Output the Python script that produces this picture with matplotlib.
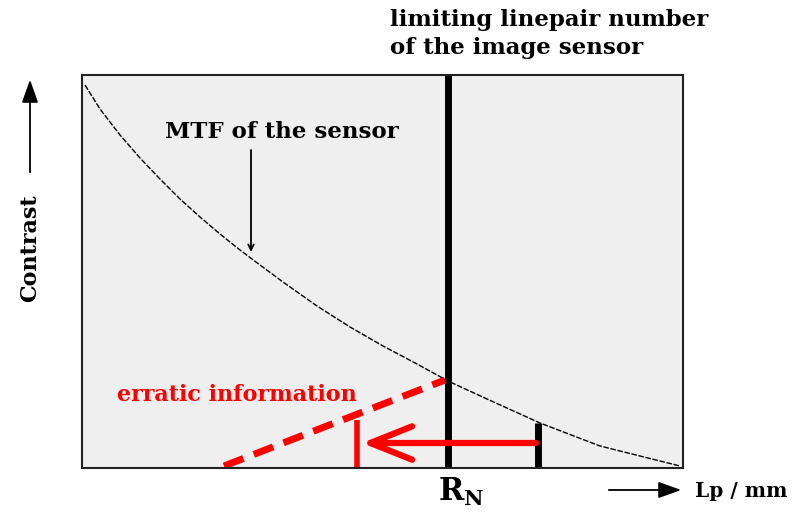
import matplotlib
matplotlib.use("Agg")
import matplotlib.pyplot as plt
from matplotlib.patches import FancyArrowPatch

plt.rcParams['font.family'] = ['DejaVu Serif']
plt.rcParams['mathtext.fontset'] = 'dejavuserif'

# MTF curve of the sensor (box units: x 0..601, y 0..393)
mtf_x = [3, 18, 38, 58, 78, 98, 118, 138, 158, 178, 201, 235, 268, 301, 335,
         366, 405, 458, 518, 598]
mtf_y = [383, 359, 333, 310, 289, 269, 251, 234, 218, 203, 186, 162, 141, 122,
         104, 87, 69, 45, 22, 2]

rn_x = 366            # limiting linepair number
sample_x = 456        # frequency above the limit
alias_x = 275         # where it gets folded back to
erratic_x = [142, 363]
erratic_y = [2, 88]

fig = plt.figure(figsize=(7.92, 5.18), dpi=100)
ax = fig.add_axes([82 / 792, (518 - 468) / 518, 601 / 792, 393 / 518])
ax.set_xlim(0, 601)
ax.set_ylim(0, 393)
ax.set_facecolor('#efefef')
ax.set_xticks([])
ax.set_yticks([])
for s in ax.spines.values():
    s.set_linewidth(1.5)
    s.set_color('#222222')

ax.plot(mtf_x, mtf_y, color='black', lw=1.0, dashes=(4, 1.2))

# Nyquist line and sample line
ax.plot([rn_x, rn_x], [0, 393], color='black', lw=5, solid_capstyle='butt')
ax.plot([sample_x, sample_x], [0, 45], color='black', lw=5, solid_capstyle='butt')

# red folding arrow
ax.annotate('', xy=(alias_x + 5, 25), xytext=(sample_x - 2, 25),
            arrowprops=dict(arrowstyle='->,head_length=3.0,head_width=1.2',
                            color='red', lw=4.5, shrinkA=0, shrinkB=0))
ax.plot([alias_x, alias_x], [0, 48], color='red', lw=4, solid_capstyle='butt')
ax.plot(erratic_x, erratic_y, color='red', lw=5, dashes=(3, 1.6))

ax.text(35, 73, 'erratic information', color='red', fontsize=16,
        fontweight='bold', va='center', ha='left')

ax.text(83, 336, 'MTF of the sensor', fontsize=16.5, fontweight='bold',
        va='center', ha='left')
ax.annotate('', xy=(169, 216), xytext=(169, 318),
            arrowprops=dict(arrowstyle='->', color='black', lw=1.3,
                            shrinkA=0, shrinkB=0))

# labels outside the box
fig.text(390 / 792, 1 - 34 / 518, 'limiting linepair number\nof the image sensor',
         fontsize=16.5, fontweight='bold', va='center', ha='left', linespacing=1.3)
fig.text(30 / 792, 1 - 248 / 518, 'Contrast', rotation=90, fontsize=16,
         fontweight='bold', va='center', ha='center')
fig.add_artist(FancyArrowPatch(
    (30 / 792, 1 - 175 / 518), (30 / 792, 1 - 77 / 518),
    transform=fig.transFigure, arrowstyle='-|>,head_length=7,head_width=2.5',
    color='black', lw=1.3, mutation_scale=2))
fig.text(461 / 792, 1 - 492 / 518, r'$\mathbf{R}_{\mathbf{N}}$', fontsize=22,
         va='center', ha='center')
fig.add_artist(FancyArrowPatch(
    (606 / 792, 1 - 490 / 518), (684 / 792, 1 - 490 / 518),
    transform=fig.transFigure, arrowstyle='-|>,head_length=7,head_width=2.5',
    color='black', lw=1.3, mutation_scale=2))
fig.text(695 / 792, 1 - 491 / 518, 'Lp / mm', fontsize=14.5, fontweight='bold',
         va='center', ha='left')

fig.savefig('out.png', dpi=100)
